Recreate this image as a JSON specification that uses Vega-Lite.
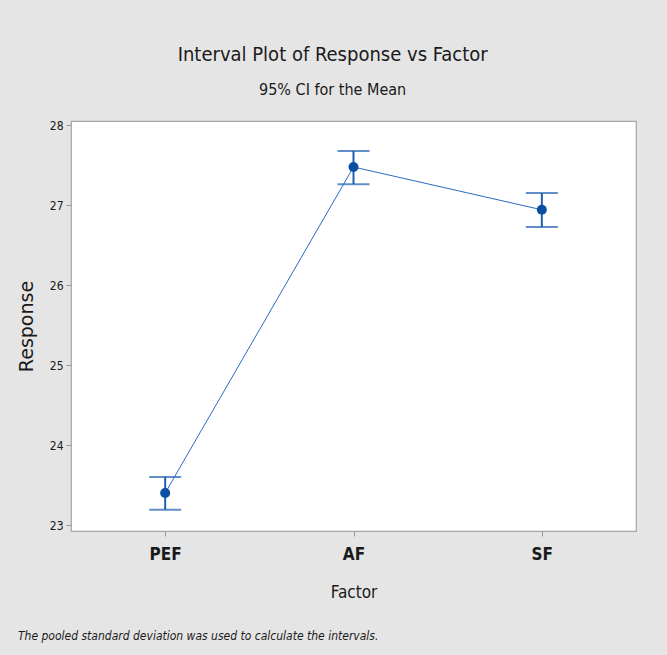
{
  "$schema": "https://vega.github.io/schema/vega-lite/v6.json",
  "autosize": {"type": "pad"},
  "padding": {"left": 16, "top": 45, "right": 31, "bottom": 12},
  "background": "#e5e5e5",
  "config": {
    "font": "DejaVu Sans Condensed",
    "view": {"fill": "white", "stroke": "#a6a6a6", "strokeWidth": 1.2},
    "concat": {"spacing": 0}
  },
  "title": {
    "text": "Interval Plot of Response vs Factor",
    "subtitle": "95% CI for the Mean",
    "anchor": "middle",
    "dx": 6,
    "offset": 20,
    "fontSize": 20,
    "fontWeight": "normal",
    "color": "#1a1a1a",
    "subtitleFontSize": 16,
    "subtitleColor": "#1a1a1a",
    "subtitlePadding": 17,
    "font": "DejaVu Sans Condensed",
    "subtitleFont": "DejaVu Sans Condensed"
  },
  "vconcat": [
    {
      "width": 565,
      "height": 410,
      "title": {
        "text": "The pooled standard deviation was used to calculate the intervals.",
        "orient": "bottom",
        "anchor": "start",
        "frame": "group",
        "dx": -53,
        "offset": 31,
        "fontSize": 12,
        "fontStyle": "italic",
        "fontWeight": "normal",
        "color": "#1a1a1a",
        "font": "DejaVu Sans Condensed"
      },
      "data": {
        "values": [
          {"Factor": "PEF", "mean": 23.40, "lo": 23.19, "hi": 23.60},
          {"Factor": "AF", "mean": 27.475, "lo": 27.26, "hi": 27.675},
          {"Factor": "SF", "mean": 26.94, "lo": 26.725, "hi": 27.15}
        ]
      },
      "encoding": {
        "x": {
          "field": "Factor",
          "type": "nominal",
          "sort": null,
          "scale": {"type": "point", "padding": 0.5},
          "axis": {
            "labelAngle": 0,
            "labelFontSize": 17,
            "labelFontWeight": "bold",
            "labelColor": "#1a1a1a",
            "labelPadding": 10,
            "tickColor": "#999999",
            "tickSize": 5,
            "domain": false,
            "titleFontSize": 17,
            "titleFontWeight": "normal",
            "titleColor": "#1a1a1a",
            "titlePadding": 22
          }
        }
      },
      "layer": [
        {
          "mark": {"type": "rule", "color": "#1f5fb0", "strokeWidth": 2},
          "encoding": {
            "y": {
              "field": "lo",
              "type": "quantitative",
              "title": "Response",
              "scale": {"domain": [22.925, 28.05], "nice": false, "zero": false},
              "axis": {
                "values": [23, 24, 25, 26, 27, 28],
                "format": "d",
                "grid": false,
                "domain": false,
                "labelFontSize": 12,
                "labelColor": "#1a1a1a",
                "labelPadding": 3,
                "tickColor": "#999999",
                "tickSize": 5,
                "titleFontSize": 19,
                "titleFontWeight": "normal",
                "titleColor": "#1a1a1a",
                "titlePadding": 13,
                "titleFont": "DejaVu Sans"
              }
            },
            "y2": {"field": "hi"}
          }
        },
        {
          "mark": {"type": "tick", "color": "#1f5fb0", "thickness": 2, "size": 32, "orient": "horizontal"},
          "encoding": {"y": {"field": "lo", "type": "quantitative"}}
        },
        {
          "mark": {"type": "tick", "color": "#1f5fb0", "thickness": 2, "size": 32, "orient": "horizontal"},
          "encoding": {"y": {"field": "hi", "type": "quantitative"}}
        },
        {
          "mark": {"type": "line", "color": "#2a6cc0", "strokeWidth": 1},
          "encoding": {"y": {"field": "mean", "type": "quantitative"}}
        },
        {
          "mark": {"type": "point", "shape": "circle", "filled": true, "opacity": 1, "size": 100, "color": "#0b4fa3"},
          "encoding": {"y": {"field": "mean", "type": "quantitative"}}
        }
      ]
    }
  ]
}
